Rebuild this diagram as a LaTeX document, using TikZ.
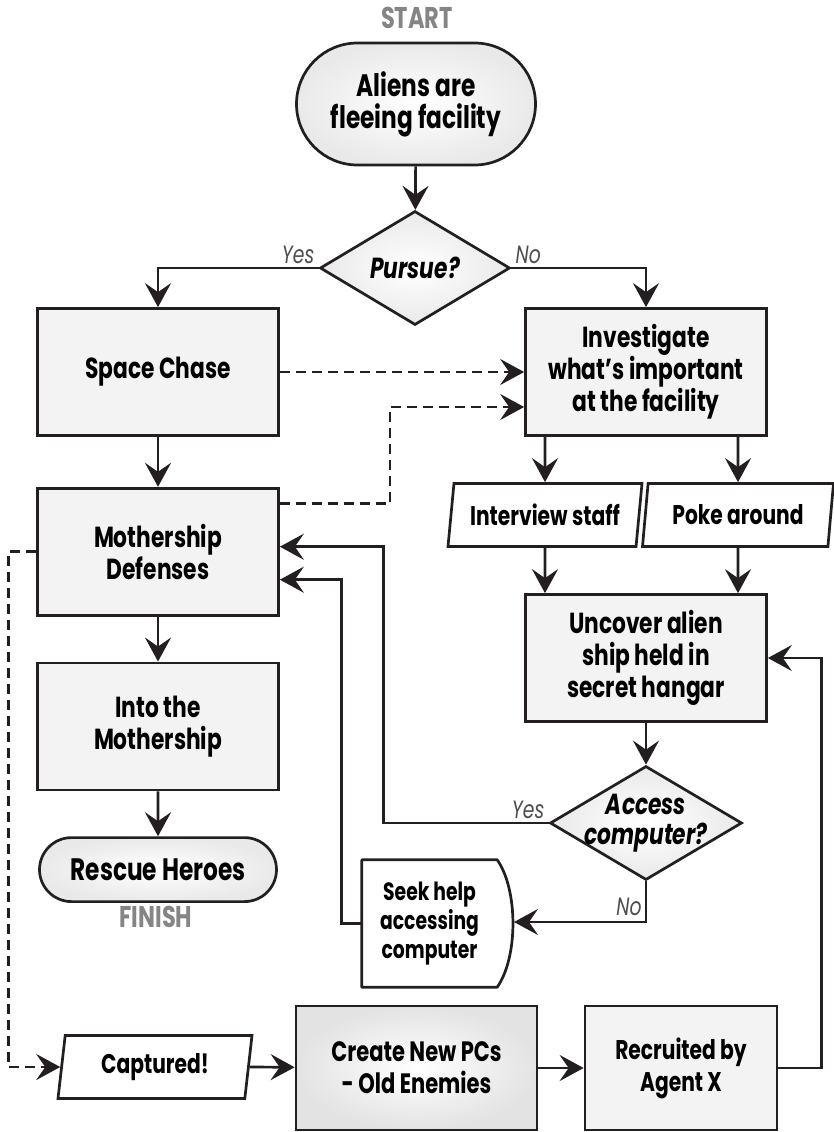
\documentclass[tikz,border=0pt]{standalone}
\usepackage{fontspec}
\setmainfont{Poppins}[FakeStretch=0.75]
\usepackage{tikz}
\usetikzlibrary{arrows.meta}
\usetikzlibrary{positioning}
\usetikzlibrary{shapes.misc}
\usepgflibrary{shapes.geometric}
\definecolor{ink}{HTML}{231F20}
\definecolor{boxfill}{HTML}{F3F3F3}
\definecolor{tagfg}{HTML}{858585}

\begin{document}
\begin{tikzpicture}[x=1pt, y=-1pt,
      box/.style ={rectangle, draw=ink, line width=2.7pt, fill=boxfill, align=center,
                   minimum width=241pt, minimum height=127pt, inner sep=2pt,
                   font=\fontsize{29}{32}\selectfont\bfseries},
      terminal/.style ={rounded rectangle, draw=ink, line width=2.7pt, shading=radial,
                   inner color=white, outer color=gray!17, align=center, inner sep=2pt,
                   font=\fontsize{31}{32}\selectfont\bfseries},
      decide/.style={diamond, draw=ink, line width=2.7pt, shading=radial,
                   inner color=white, outer color=gray!17, align=center, inner sep=-20pt,
                   font=\fontsize{29}{30}\selectfont\bfseries\itshape},
      io/.style ={trapezium, trapezium left angle=77, trapezium right angle=103,
                   trapezium stretches body, draw=ink, line width=2.7pt, fill=white,
                   minimum width=194pt, minimum height=63pt, inner sep=2pt,
                   font=\fontsize{27}{30}\selectfont\bfseries},
      tag/.style ={text=tagfg, font=\fontsize{30}{32}\selectfont\bfseries},
      answer/.style={text=ink!80, inner sep=3pt, font=\fontsize{25}{28}\selectfont\itshape},
      flow/.style ={-{Stealth[length=24pt, width=26pt, inset=9pt]}, draw=ink, line width=2.7pt},
      dashflow/.style={flow, dash pattern=on 10pt off 6pt},
      node distance=45pt
    ]
    \useasboundingbox (0,0) rectangle (834,1132);

    \node [tag] (starttag) at (417,18) {START} ;
    \node [terminal, minimum width=243pt, minimum height=122pt] (start) at (416,104) {Aliens are\\fleeing facility} ;
    \node [decide, minimum width=190pt, minimum height=114pt] (pursue) at (415,268) {Pursue?} ;

    \node [box] (chase) at (158,372) {Space Chase} ;
    \node [box] (mother) [below=50pt of chase] {Mothership\\Defenses} ;
    \node [box] (into) [below=of mother] {Into the\\Mothership} ;
    \node [terminal, minimum width=241pt, minimum height=64pt] (rescue) [below=of into] {Rescue Heroes} ;
    \node [tag] (finishtag) at (156,917) {FINISH} ;

    \node [box] (invest) at (646,372) {Investigate\\what’s important\\at the facility} ;
    \node [io] (interview) at (545,515) {Interview staff} ;
    \node [io, minimum width=191pt] (poke) at (738,515) {Poke around} ;
    \node [box] (uncover) at (646,658) {Uncover alien\\ship held in\\secret hangar} ;
    \node [decide, minimum width=192pt, minimum height=114pt] (access) at (646,823) {Access\\computer?} ;

    \node [draw=none, minimum width=135pt, minimum height=127pt, align=center,
           font=\fontsize{25}{29}\selectfont\bfseries] (seek) at (429.5,923.5) {Seek help\\accessing\\computer} ;
    \draw [ink, line width=2.7pt, line join=round] (seek.north west) -- (seek.north east)
          .. controls +(21,30) and +(21,-30) .. (seek.south east) -- (seek.south west) -- cycle ;
    \coordinate (seekbulge) at (514,922) ;

    \node [io] (captured) at (155,1067) {Captured!} ;
    \node [box, minimum height=124pt, shading=radial, inner color=white, outer color=gray!22,
           font=\fontsize{28}{32}\selectfont\bfseries] (create) at (416.5,1068) {Create New PCs\\- Old Enemies} ;
    \node [box, minimum width=192pt, minimum height=124pt,
           font=\fontsize{27}{32}\selectfont\bfseries] (recruit) at (681,1068) {Recruited by\\Agent X} ;

    \draw [flow] (start) -- (pursue) ;
    \draw [flow] (pursue.west) -| node[answer, pos=0, anchor=south east] {Yes} (chase.north) ;
    \draw [flow] (pursue.east) -| node[answer, pos=0, anchor=south west] {No} (invest.north) ;
    \draw [dashflow] (chase) -- (invest) ;
    \draw [flow] (chase) -- (mother) ;
    \draw [dashflow] ([yshift=48pt]mother.east) -- ++(110,0) |- ([yshift=-35pt]invest.west) ;
    \draw [flow] (mother) -- (into) ;
    \draw [flow] (into) -- (rescue) ;

    \draw [flow] (interview.north |- invest.south) -- (interview) ;
    \draw [flow] (poke.north |- invest.south) -- (poke) ;
    \draw [flow] (interview) -- (interview |- uncover.north) ;
    \draw [flow] (poke) -- (poke |- uncover.north) ;
    \draw [flow] (uncover) -- (access) ;
    \draw [flow] (access.west) -- node[answer, pos=0, anchor=south east] {Yes} ++(-165,0) |- ([yshift=5pt]mother.east) ;
    \draw [flow] (access.south) |- node[answer, pos=0.5, anchor=south east, yshift=2pt] {No} (seekbulge) ;
    \draw [flow] (seek.west) -- ++(-20,0) |- ([yshift=-28pt]mother.east) ;

    \draw [dashflow] (mother.west) -- ++(-28,0) |- (captured.west) ;
    \draw [flow] (captured.east) -- (create) ;
    \draw [flow] (create) -- (recruit) ;
    \draw [flow] (recruit.east) -- ++(43,0) |- (uncover.east) ;
  \end{tikzpicture}
\end{document}
